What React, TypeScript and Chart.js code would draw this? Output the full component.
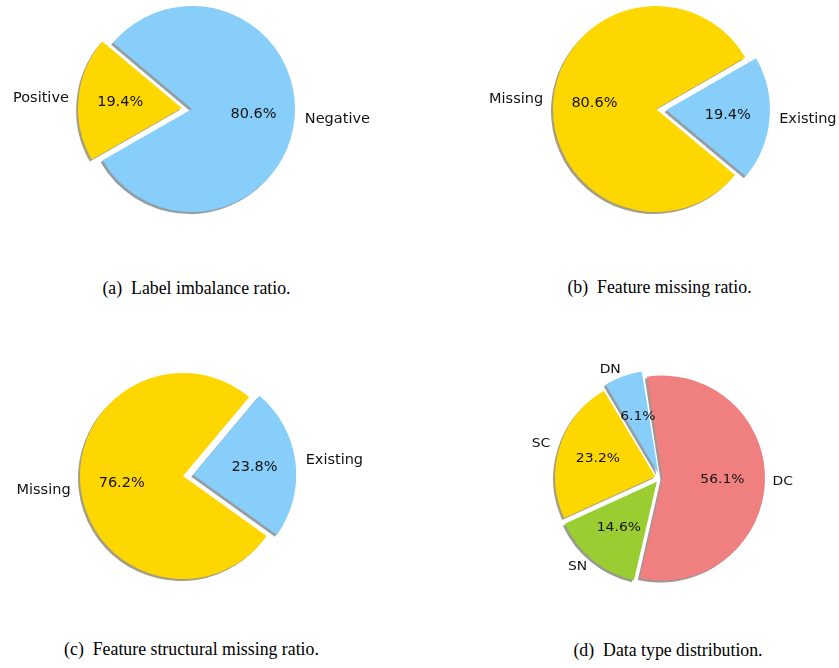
import React, { useEffect, useRef } from "react";
import { Chart, registerables } from "chart.js";

Chart.register(...registerables);

// ---------- data ----------
// (a) Label imbalance ratio
const labelsA = ["Positive", "Negative"];
const valuesA = [19.4, 80.6];
const colorsA = ["#FFD700", "#87CEFA"];
const explodeA = [0.1, 0];

// (b) Feature missing ratio
const labelsB = ["Missing", "Existing"];
const valuesB = [80.6, 19.4];
const colorsB = ["#FFD700", "#87CEFA"];
const explodeB = [0, 0.1];

// (c) Feature structural missing ratio
const labelsC = ["Missing", "Existing"];
const valuesC = [76.2, 23.8];
const colorsC = ["#FFD700", "#87CEFA"];
const explodeC = [0, 0.1];

// (d) Data type distribution
const labelsD = ["DC", "DN", "SC", "SN"];
const valuesD = [56.1, 6.1, 23.2, 14.6];
const colorsD = ["#F08080", "#87CEFA", "#FFD700", "#9ACD32"];
const explodeD = [0.025, 0.05, 0.05, 0.05];

const captions = [
  "(a)  Label imbalance ratio.",
  "(b)  Feature missing ratio.",
  "(c)  Feature structural missing ratio.",
  "(d)  Data type distribution.",
];

const W = 420;
const H = 250;
const TEXT_FONT = "'DejaVu Sans', 'Noto Sans', sans-serif";

type PanelProps = {
  labels: string[];
  values: number[];
  colors: string[];
  explode: number[];
  startAngle: number; // matplotlib-style, degrees counter-clockwise from +x
  cx: number;
  cy: number;
  radius: number;
  fontPx: number;
  scaleX: number;
};

const shadowPlugin = {
  id: "pieShadow",
  beforeDatasetsDraw(chart: any) {
    const ctx = chart.ctx as CanvasRenderingContext2D;
    const meta = chart.getDatasetMeta(0);
    ctx.save();
    ctx.translate(-2, 2);
    (ctx as any).filter = "brightness(0.3) opacity(0.5)";
    meta.data.forEach((el: any) => el.draw(ctx));
    ctx.restore();
  },
};

function makeLabelPlugin(fontPx: number, scaleX: number) {
  const drawText = (
    ctx: CanvasRenderingContext2D,
    t: string,
    x: number,
    y: number,
    align: CanvasTextAlign
  ) => {
    ctx.save();
    ctx.translate(x, y);
    ctx.scale(scaleX, 1);
    ctx.textAlign = align;
    ctx.textBaseline = "middle";
    ctx.fillText(t, 0, 0);
    ctx.restore();
  };
  return {
    id: "pieLabels",
    afterDatasetsDraw(chart: any) {
      const ctx = chart.ctx as CanvasRenderingContext2D;
      const meta = chart.getDatasetMeta(0);
      const data: number[] = chart.data.datasets[0].data;
      const total = data.reduce((s, v) => s + v, 0);
      ctx.save();
      ctx.fillStyle = "#111";
      ctx.font = `${fontPx}px ${TEXT_FONT}`;
      meta.data.forEach((el: any, i: number) => {
        const p = el.getProps(["x", "y", "startAngle", "endAngle", "outerRadius"], true);
        const mid = (p.startAngle + p.endAngle) / 2;
        const off = (el.options.offset || 0) / 4;
        const c = Math.cos(mid);
        const s = Math.sin(mid);
        const bx = p.x + c * off;
        const by = p.y + s * off;
        const r = p.outerRadius;
        const label = chart.data.labels[i] as string;
        const pct = ((data[i] / total) * 100).toFixed(1) + "%";
        drawText(ctx, label, bx + c * 1.1 * r, by + s * 1.1 * r, c > 0 ? "left" : "right");
        drawText(ctx, pct, bx + c * 0.6 * r, by + s * 0.6 * r, "center");
      });
      ctx.restore();
    },
  };
}

function PiePanel(props: PanelProps) {
  const ref = useRef<HTMLCanvasElement>(null);
  useEffect(() => {
    const { labels, values, colors, explode, startAngle, radius, fontPx, scaleX } = props;
    // matplotlib draws counter-clockwise; Chart.js draws clockwise -> reverse order
    const idx = labels.map((_, i) => i).reverse();
    const chart = new Chart(ref.current as HTMLCanvasElement, {
      type: "pie",
      data: {
        labels: idx.map((i) => labels[i]),
        datasets: [
          {
            data: idx.map((i) => values[i]),
            backgroundColor: idx.map((i) => colors[i]),
            offset: idx.map((i) => explode[i] * radius * 4),
            borderWidth: 0,
          } as any,
        ],
      },
      options: {
        responsive: false,
        maintainAspectRatio: false,
        animation: false,
        rotation: 90 - startAngle,
        radius: radius,
        layout: { padding: 0 },
        events: [],
        plugins: {
          legend: { display: false },
          tooltip: { enabled: false },
        },
      } as any,
      plugins: [shadowPlugin, makeLabelPlugin(fontPx, scaleX)],
    });
    return () => chart.destroy();
  }, []);
  return (
    <canvas
      ref={ref}
      width={W}
      height={H}
      style={{
        position: "absolute",
        left: props.cx - W / 2,
        top: props.cy - H / 2,
        width: W,
        height: H,
      }}
    />
  );
}

function Caption({ text, cx, baseline }: { text: string; cx: number; baseline: number }) {
  return (
    <div
      style={{
        position: "absolute",
        left: cx - 250,
        width: 500,
        top: baseline - 15,
        lineHeight: "18px",
        height: 18,
        textAlign: "center",
        fontFamily: "'Liberation Serif', 'Times New Roman', serif",
        fontSize: 17.8,
        color: "#000",
        whiteSpace: "pre",
      }}
    >
      {text}
    </div>
  );
}

export default function App() {
  return (
    <div
      style={{
        position: "absolute",
        left: 0,
        top: 0,
        width: 839,
        height: 668,
        overflow: "hidden",
        background: "#fff",
      }}
    >
      <PiePanel labels={labelsA} values={valuesA} colors={colorsA} explode={explodeA}
        startAngle={140} cx={192} cy={109} radius={103} fontPx={14.5} scaleX={1} />
      <PiePanel labels={labelsB} values={valuesB} colors={colorsB} explode={explodeB}
        startAngle={30} cx={656} cy={109} radius={103} fontPx={14.5} scaleX={1} />
      <PiePanel labels={labelsC} values={valuesC} colors={colorsC} explode={explodeC}
        startAngle={50} cx={183} cy={476} radius={103} fontPx={14.5} scaleX={1} />
      <PiePanel labels={labelsD} values={valuesD} colors={colorsD} explode={explodeD}
        startAngle={257} cx={660} cy={478} radius={100} fontPx={12} scaleX={1.16} />
      <Caption text={captions[0]} cx={196.5} baseline={294} />
      <Caption text={captions[1]} cx={659.5} baseline={293} />
      <Caption text={captions[2]} cx={191.5} baseline={655} />
      <Caption text={captions[3]} cx={668} baseline={656} />
    </div>
  );
}
